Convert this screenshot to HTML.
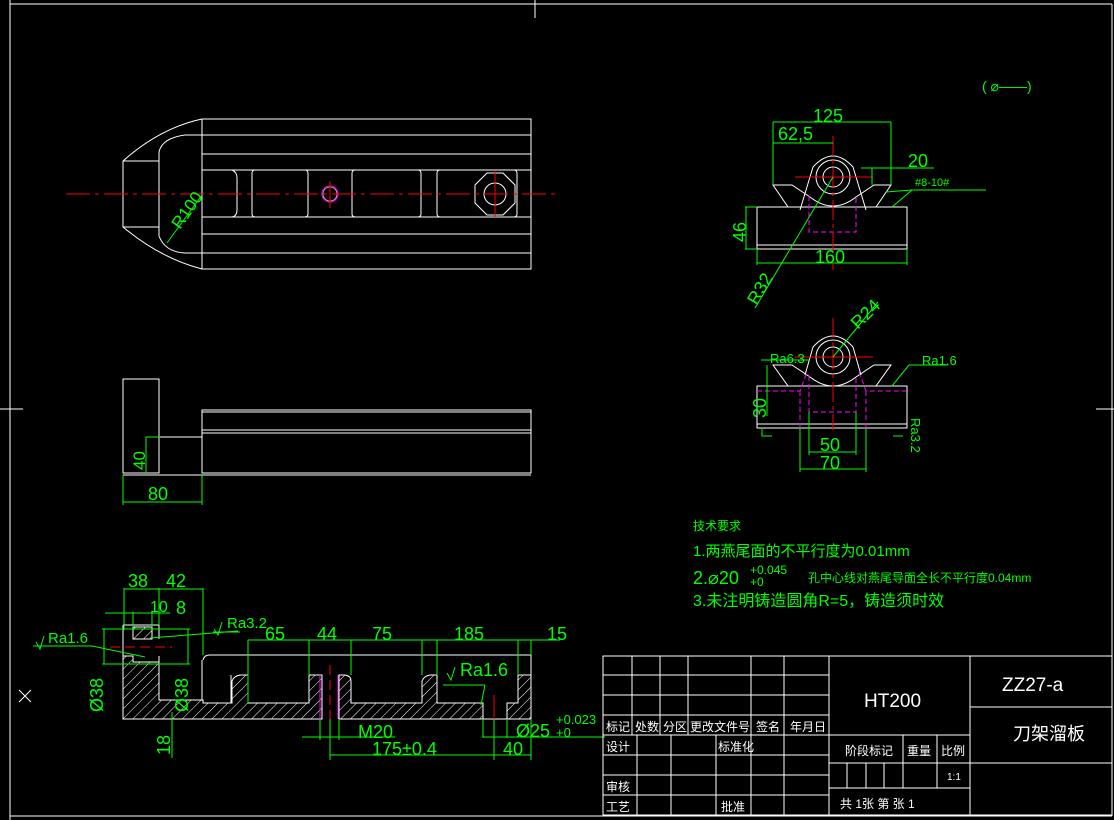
<!DOCTYPE html>
<html><head><meta charset="utf-8"><style>
html,body{margin:0;padding:0;background:#000;}
svg{display:block}
text{font-family:"Liberation Sans","Noto Sans CJK SC",sans-serif;}
.g{fill:#00ff00}
.w{fill:#fff}
</style></head><body>
<svg width="1114" height="820" viewBox="0 0 1114 820" xmlns="http://www.w3.org/2000/svg">
<defs>
<pattern id="h" width="7" height="7" patternUnits="userSpaceOnUse" patternTransform="rotate(45)">
<line x1="0" y1="0" x2="0" y2="7" stroke="#fff" stroke-width="1"/>
</pattern>
</defs>
<rect width="1114" height="820" fill="#000"/>
<!-- frame -->
<g stroke="#fff" fill="none" stroke-width="1">
<line x1="10" y1="0" x2="10" y2="820"/>
<line x1="10" y1="4" x2="1112" y2="4"/>
<line x1="1112" y1="4" x2="1112" y2="816"/>
<line x1="10" y1="816" x2="1112" y2="816"/>
<line x1="535" y1="0" x2="535" y2="18"/>
<line x1="0" y1="409" x2="23" y2="409"/>
<line x1="1096" y1="409" x2="1114" y2="409"/>
<line x1="19" y1="690" x2="31" y2="702"/><line x1="31" y1="690" x2="19" y2="702"/>
</g>

<!-- TOP VIEW -->
<g stroke="#fff" fill="none" stroke-width="1">
<rect x="202" y="119" width="329" height="150"/>
<line x1="202" y1="135" x2="531" y2="135"/>
<line x1="202" y1="154" x2="531" y2="154"/>
<line x1="202" y1="170" x2="531" y2="170"/>
<line x1="202" y1="217" x2="531" y2="217"/>
<line x1="202" y1="234" x2="531" y2="234"/>
<line x1="202" y1="253" x2="531" y2="253"/>
<path d="M202 119 Q160 128 123 161 L123 227 Q160 258 202 269"/>
<path d="M202 135 L185 135 Q162 138 159 152 L159 236 Q165 252 185 253 L202 253"/>
<line x1="123" y1="161" x2="159" y2="161"/>
<line x1="123" y1="227" x2="159" y2="227"/>
<path d="M232 170 Q237 172 237 178 L237 210 Q237 216 232 217" />
<rect x="252" y="170" width="56" height="47" rx="3" fill="#000"/>
<rect x="352" y="170" width="69" height="47" rx="3" fill="#000"/>
<rect x="437" y="170" width="80" height="47" rx="3" fill="#000"/>
<polygon points="487,173 503,173 515,185 515,203 503,215 487,215 475,203 475,185"/>
<circle cx="495" cy="194" r="11"/>
</g>
<circle cx="330" cy="194" r="8" fill="none" stroke="#ff00ff"/>
<circle cx="330" cy="194" r="7" fill="none" stroke="#fff" stroke-width="0.6"/>
<line x1="66" y1="194" x2="560" y2="194" stroke="#ff0000" stroke-dasharray="24,5,4,5"/>
<line x1="330" y1="181" x2="330" y2="208" stroke="#ff0000"/>
<line x1="495" y1="171" x2="495" y2="217" stroke="#ff0000"/>
<line x1="167" y1="243" x2="202" y2="195" stroke="#00ff00"/>
<text class="g" font-size="17" transform="translate(180,230) rotate(-55)">R100</text>

<!-- SIDE VIEW -->
<g stroke="#fff" fill="none" stroke-width="1">
<rect x="123" y="379" width="36" height="94"/>
<rect x="202" y="410" width="329" height="63"/>
<line x1="202" y1="412" x2="531" y2="412"/>
<line x1="202" y1="430" x2="531" y2="430"/>
<line x1="202" y1="433" x2="531" y2="433"/>
<line x1="159" y1="437" x2="202" y2="437"/>
<line x1="123" y1="475" x2="531" y2="475"/>
</g>
<g stroke="#00ff00" fill="none">
<line x1="146" y1="437" x2="146" y2="473"/><line x1="146" y1="437" x2="160" y2="437"/>
<line x1="123" y1="475" x2="123" y2="505"/><line x1="202" y1="475" x2="202" y2="505"/>
<line x1="123" y1="502" x2="202" y2="502"/>
</g>
<text class="g" font-size="17" transform="translate(145,470) rotate(-90)">40</text>
<text class="g" font-size="18" x="148" y="500">80</text>

<!-- SECTION VIEW -->
<g>
<path d="M123 656 L133 656 L133 662 L159 662 L159 700 L203 700 L203 703 L232 703 L232 681 Q234 676 240 675 L248 675 L248 703 L309 703 L309 675 L322 675 L322 719 L123 719 Z" fill="url(#h)" stroke="#fff"/>
<rect x="133" y="627" width="19" height="12" fill="url(#h)" stroke="#fff"/>
<path d="M339 675 L345 675 Q351 676 351 681 L351 703 L422 703 L422 681 Q424 676 430 675 L437 675 L437 703 L483 703 L483 719 L339 719 Z" fill="url(#h)" stroke="#fff"/>
<path d="M507 703 L518 703 L518 675 L531 675 L531 719 L507 719 Z" fill="url(#h)" stroke="#fff"/>
<g stroke="#fff" fill="none">
<path d="M123 625 L159 625 L159 639 M123 625 L123 719 M159 656 L159 662"/>
<path d="M203 660 Q204 655 210 655 L531 655 L531 675"/>
<path d="M202 660 L202 700"/>
<line x1="483" y1="719" x2="507" y2="719"/>
<line x1="231" y1="675" x2="231" y2="703"/>
<line x1="248" y1="675" x2="248" y2="703"/>
</g>
<line x1="320" y1="675" x2="320" y2="719" stroke="#ff00ff"/>
<line x1="338" y1="675" x2="338" y2="719" stroke="#ff00ff"/>
<line x1="110" y1="647" x2="172" y2="647" stroke="#ff0000" stroke-dasharray="10,5"/>
<line x1="330" y1="665" x2="330" y2="725" stroke="#ff0000" stroke-dasharray="10,5"/>
<line x1="494" y1="695" x2="494" y2="722" stroke="#ff0000"/>
</g>
<g stroke="#00ff00" fill="none">
<line x1="124" y1="588" x2="124" y2="630"/><line x1="159" y1="588" x2="159" y2="625"/><line x1="203" y1="588" x2="203" y2="655"/>
<line x1="124" y1="589" x2="203" y2="589"/>
<line x1="105" y1="613" x2="170" y2="613"/><line x1="133" y1="612" x2="133" y2="627"/><line x1="152" y1="612" x2="152" y2="627"/>
<line x1="102" y1="629" x2="190" y2="629"/><line x1="102" y1="664" x2="190" y2="664"/>
<line x1="104" y1="629" x2="104" y2="664"/><line x1="188" y1="629" x2="188" y2="664"/>
<line x1="33" y1="646" x2="92" y2="646"/><line x1="92" y1="646" x2="145" y2="657"/>
<line x1="150" y1="638" x2="238" y2="631"/><line x1="213" y1="632" x2="240" y2="632"/>
<line x1="172" y1="712" x2="172" y2="758"/>
<line x1="248" y1="640" x2="560" y2="640"/>
<line x1="248" y1="640" x2="248" y2="703"/><line x1="309" y1="640" x2="309" y2="675"/>
<line x1="351" y1="640" x2="351" y2="675"/><line x1="422" y1="640" x2="422" y2="675"/>
<line x1="437" y1="640" x2="437" y2="675"/><line x1="518" y1="640" x2="518" y2="675"/><line x1="531" y1="640" x2="531" y2="655"/>
<line x1="443" y1="685" x2="485" y2="685"/><line x1="485" y1="685" x2="481" y2="705"/>
<line x1="302" y1="737" x2="395" y2="737"/><line x1="320" y1="719" x2="320" y2="740"/><line x1="339" y1="719" x2="339" y2="740"/>
<line x1="330" y1="755" x2="531" y2="755"/><line x1="330" y1="719" x2="330" y2="760"/><line x1="494" y1="719" x2="494" y2="760"/><line x1="531" y1="719" x2="531" y2="760"/>
<line x1="483" y1="719" x2="483" y2="738"/><line x1="507" y1="719" x2="507" y2="738"/><line x1="483" y1="737" x2="605" y2="737"/>
</g>
<g class="g" font-size="18">
<text x="128" y="587">38</text><text x="166" y="587">42</text>
<text x="150" y="612" font-size="16">10</text><text x="176" y="614">8</text>
<text x="227" y="628" font-size="15">Ra3.2</text>
<text x="48" y="643" font-size="15">Ra1.6</text>
<text x="265" y="640">65</text><text x="317" y="640">44</text><text x="372" y="640">75</text><text x="454" y="640">185</text><text x="547" y="640">15</text>
<text x="460" y="676">Ra1.6</text>
<text x="358" y="738">M20</text>
<text x="372" y="755">175±0.4</text>
<text x="503" y="755">40</text>
<text x="516" y="737">Ø25</text>
<text x="556" y="724" font-size="13">+0.023</text>
<text x="556" y="737" font-size="13">+0</text>
<text transform="translate(103,712) rotate(-90)">Ø38</text>
<text transform="translate(188,712) rotate(-90)">Ø38</text>
<text transform="translate(170,755) rotate(-90)">18</text>
</g>
<g stroke="#00ff00" fill="none">
<path d="M36 642 L40 649 L44 636"/><path d="M214 629 L218 635 L222 622"/><path d="M447 673 L451 680 L455 667"/>
</g>

<!-- RIGHT UPPER VIEW -->
<g stroke="#fff" fill="none">
<rect x="757" y="207" width="150" height="42"/>
<line x1="757" y1="245" x2="907" y2="245"/>
<path d="M757 207 L788 207 L773 185 L792 185 L810 197 Q833 215 856 197 L874 185 L891 185 L876 207 L907 207"/>
<path d="M800 210 L813 167 Q833 145 853 167 L866 210"/>
<circle cx="833" cy="177" r="17"/><circle cx="833" cy="177" r="10"/>
</g>
<path d="M809 196 L809 232 L856 232 L856 196" stroke="#ff00ff" fill="none" stroke-dasharray="5,3"/>
<line x1="833" y1="136" x2="833" y2="270" stroke="#ff0000" stroke-dasharray="20,4,4,4"/>
<line x1="795" y1="177" x2="873" y2="177" stroke="#ff0000"/>
<g stroke="#00ff00" fill="none">
<line x1="773" y1="122" x2="773" y2="185"/><line x1="891" y1="122" x2="891" y2="185"/>
<line x1="773" y1="122" x2="891" y2="122"/><line x1="773" y1="143" x2="833" y2="143"/>
<line x1="872" y1="168" x2="872" y2="185"/><line x1="861" y1="168" x2="934" y2="168"/>
<line x1="886" y1="192" x2="912" y2="190"/><line x1="912" y1="190" x2="986" y2="190"/><line x1="912" y1="190" x2="892" y2="207"/>
<line x1="745" y1="207" x2="757" y2="207"/><line x1="745" y1="249" x2="757" y2="249"/><line x1="746" y1="207" x2="746" y2="249"/>
<line x1="757" y1="249" x2="757" y2="265"/><line x1="907" y1="249" x2="907" y2="265"/><line x1="757" y1="263" x2="907" y2="263"/>
<line x1="755" y1="308" x2="833" y2="177"/>
</g>
<g class="g" font-size="18">
<text x="813" y="122">125</text><text x="778" y="140">62,5</text><text x="908" y="167">20</text>
<text x="915" y="186" font-size="11">#8-10#</text>
<text transform="translate(746,242) rotate(-90)">46</text>
<text x="815" y="263">160</text>
<text transform="translate(757,306) rotate(-60)">R32</text>
</g>

<!-- RIGHT LOWER VIEW -->
<g stroke="#fff" fill="none">
<rect x="757" y="386" width="150" height="42"/>
<line x1="757" y1="424" x2="907" y2="424"/>
<path d="M757 386 L788 386 L773 365 L792 365 L810 377 Q833 395 856 377 L874 365 L891 365 L876 386 L907 386"/>
<path d="M805 375 L813 347 Q833 325 853 347 L861 375"/>
<circle cx="833" cy="357" r="17"/><circle cx="833" cy="357" r="10"/>
</g>
<path d="M757 391 L800 391 L807 372 M859 372 L866 391 L907 391 M809 376 L809 412 L856 412 L856 376 M800 391 L800 428 M866 391 L866 428" stroke="#ff00ff" fill="none" stroke-dasharray="5,3"/>
<line x1="833" y1="318" x2="833" y2="430" stroke="#ff0000" stroke-dasharray="20,4,4,4"/>
<line x1="795" y1="357" x2="873" y2="357" stroke="#ff0000"/>
<g stroke="#00ff00" fill="none">
<line x1="833" y1="357" x2="878" y2="302"/>
<line x1="761" y1="360" x2="810" y2="360"/><line x1="767" y1="365" x2="767" y2="416"/>
<line x1="909" y1="365" x2="948" y2="365"/><line x1="909" y1="365" x2="892" y2="386"/>
<line x1="800" y1="428" x2="800" y2="472"/><line x1="866" y1="428" x2="866" y2="472"/>
<line x1="809" y1="412" x2="809" y2="455"/><line x1="856" y1="412" x2="856" y2="455"/>
<line x1="809" y1="452" x2="856" y2="452"/><line x1="800" y1="469" x2="866" y2="469"/>
<path d="M762 429 L762 436 L772 436 M903 436 L893 436"/>
</g>
<g class="g" font-size="18">
<text transform="translate(858,330) rotate(-45)">R24</text>
<text x="770" y="363" font-size="13">Ra6.3</text>
<text x="922" y="365" font-size="13">Ra1.6</text>
<text transform="translate(766,418) rotate(-90)">30</text>
<text transform="translate(911,418) rotate(90)" font-size="13">Ra3.2</text>
<text x="820" y="451">50</text><text x="820" y="469">70</text>
<text x="982" y="91" font-size="14">(  ⌀——)</text>
</g>

<!-- TECH REQ -->
<g class="g">
<text x="693" y="530" font-size="12">技术要求</text>
<text x="693" y="556" font-size="15">1.两燕尾面的不平行度为0.01mm</text>
<text x="693" y="584" font-size="18">2.⌀20</text>
<text x="750" y="574" font-size="12">+0.045</text>
<text x="750" y="586" font-size="12">+0</text>
<text x="808" y="582" font-size="12">孔中心线对燕尾导面全长不平行度0.04mm</text>
<text x="693" y="606" font-size="16">3.未注明铸造圆角R=5，铸造须时效</text>
</g>

<!-- TITLE BLOCK -->
<g stroke="#fff" fill="none">
<rect x="603" y="656" width="509" height="159"/>
<line x1="603" y1="675" x2="829" y2="675"/><line x1="603" y1="695" x2="829" y2="695"/>
<line x1="603" y1="715" x2="829" y2="715"/><line x1="603" y1="735" x2="970" y2="735"/>
<line x1="603" y1="755" x2="829" y2="755"/><line x1="603" y1="775" x2="829" y2="775"/><line x1="603" y1="795" x2="829" y2="795"/>
<line x1="632" y1="656" x2="632" y2="735"/><line x1="660" y1="656" x2="660" y2="735"/><line x1="688" y1="656" x2="688" y2="735"/>
<line x1="751" y1="656" x2="751" y2="815"/><line x1="784" y1="656" x2="784" y2="815"/><line x1="829" y1="656" x2="829" y2="815"/>
<line x1="637" y1="735" x2="637" y2="815"/><line x1="671" y1="735" x2="671" y2="815"/><line x1="716" y1="735" x2="716" y2="815"/>
<line x1="970" y1="656" x2="970" y2="815"/>
<line x1="829" y1="763" x2="1112" y2="763"/><line x1="829" y1="788" x2="970" y2="788"/>
<line x1="970" y1="707" x2="1112" y2="707"/>
<line x1="903" y1="735" x2="903" y2="788"/><line x1="937" y1="735" x2="937" y2="788"/>
<line x1="847" y1="763" x2="847" y2="788"/><line x1="866" y1="763" x2="866" y2="788"/><line x1="884" y1="763" x2="884" y2="788"/>
</g>
<g class="w" font-size="12">
<text x="606" y="731">标记</text><text x="635" y="731">处数</text><text x="663" y="731">分区</text><text x="690" y="731">更改文件号</text>
<text x="756" y="731">签名</text><text x="790" y="731">年月日</text>
<text x="606" y="751">设计</text><text x="718" y="751">标准化</text>
<text x="606" y="791">审核</text><text x="606" y="811">工艺</text><text x="721" y="811">批准</text>
<text x="845" y="755">阶段标记</text><text x="907" y="755">重量</text><text x="941" y="755">比例</text>
<text x="947" y="780" font-size="10">1:1</text>
<text x="840" y="808">共  1张 第  张 1</text>
<text x="864" y="707" font-size="19">HT200</text>
<text x="1002" y="691" font-size="19">ZZ27-a</text>
<text x="1013" y="740" font-size="18">刀架溜板</text>
</g>
</svg>
</body></html>
